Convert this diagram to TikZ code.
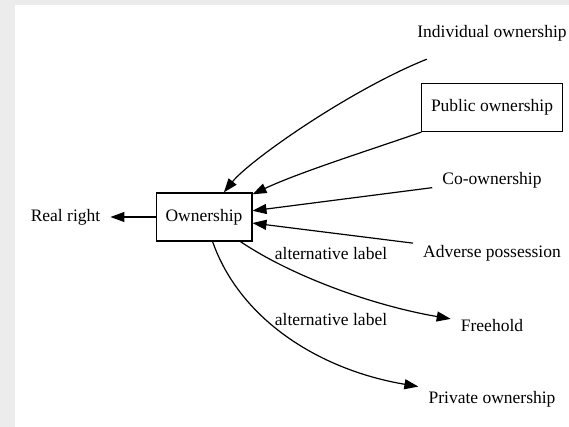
\documentclass[tikz,border=0pt]{standalone}
\usepackage{fontspec}
\setmainfont{Liberation Serif}
\usetikzlibrary{arrows.meta}
\definecolor{bggray}{HTML}{ECECEC}
\begin{document}
\begin{tikzpicture}[x=1pt,y=-1pt,font=\fontsize{17.5}{21}\selectfont,box/.style={shape=rectangle,draw=black,line width=1.2pt,minimum height=48pt,inner xsep=9.5pt,inner ysep=0pt},word/.style={shape=rectangle,minimum height=52pt,inner xsep=10pt,inner ysep=0pt},link/.style={line width=1.2pt,-{Triangle[length=14pt,width=10pt]}},tag/.style={inner sep=0pt}]
\def\dx{492};

\useasboundingbox (0,0) rectangle (569,427);
\fill[bggray] (0,0) rectangle (569,427);
\fill[white] (15,5) rectangle (569,427);

\node[box] (O) at (204,217) {Ownership};
\node[word] (R) at (65.5,217) {Real right};
\node[word] (I) at (\dx,33) {Individual ownership};
\node[box] (P) at (\dx,107.5) {Public ownership};
\node[word] (C) at (\dx,180) {Co-ownership};
\node[word] (A) at (\dx,253) {Adverse possession};
\node[word] (F) at (\dx,326) {Freehold};
\node[word] (V) at (\dx,399) {Private ownership};
\node[tag] (L1) at (331,254) {alternative label};
\node[tag] (L2) at (331,320) {alternative label};

\draw[link] (O) -- (R);
\draw[link] (I) .. controls (350,90) and (250,160) .. (O);
\draw[link] (P) .. controls (370,150) and (300,172) .. (O);
\draw[link] (C) -- (O);
\draw[link] (A) -- (O);
\draw[link] (O) .. controls (290,275) and (370,305) .. (F);
\draw[link] (O) .. controls (240,320) and (320,370) .. (V);
\end{tikzpicture}
\end{document}
